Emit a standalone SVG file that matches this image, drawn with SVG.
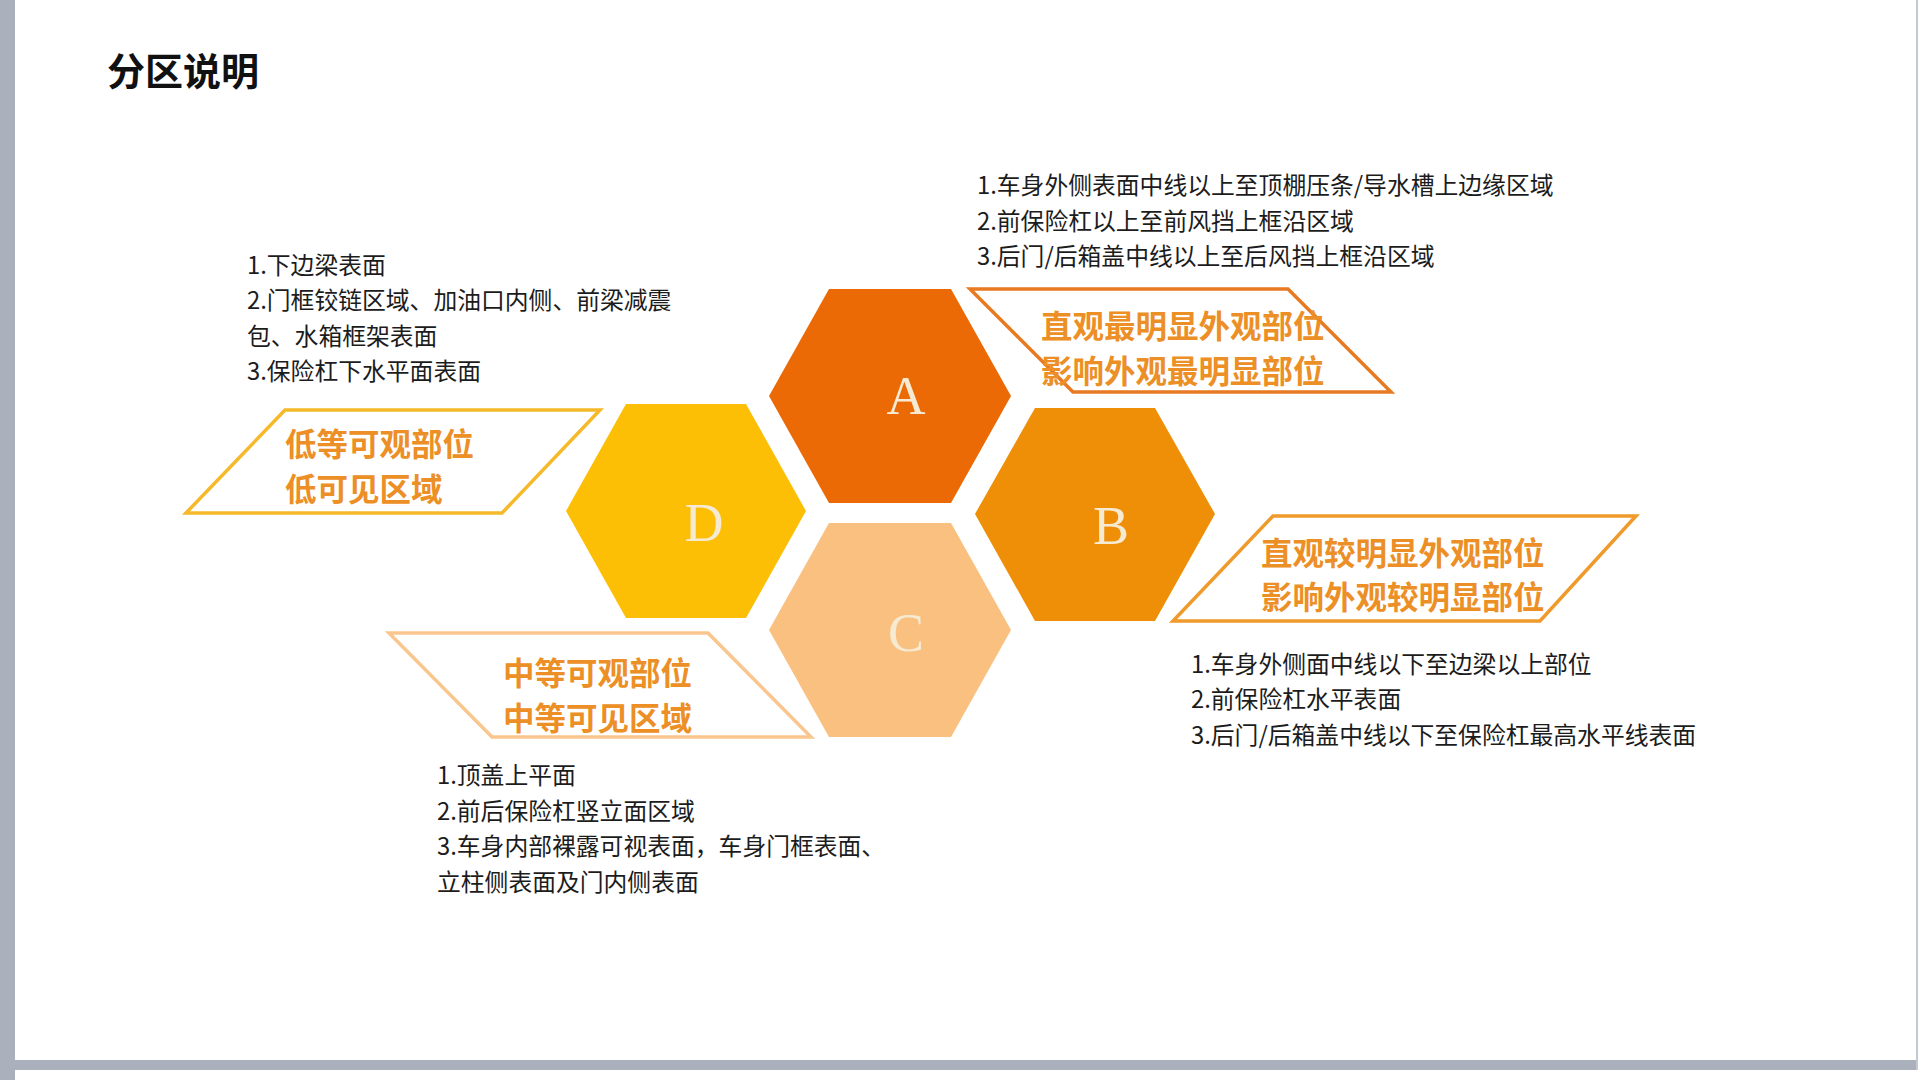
<svg xmlns="http://www.w3.org/2000/svg" width="1920" height="1080" viewBox="0 0 1920 1080">
  <style>
    .title { font-family: "Noto Sans CJK SC", "Noto Sans", sans-serif; font-size: 38px; font-weight: 700; fill: #111111; }
    .body { font-family: "Noto Sans CJK SC", "Noto Sans", sans-serif; font-size: 23.8px; fill: #1c1c1c; }
    .label { font-family: "Noto Sans CJK SC", "Noto Sans", sans-serif; font-size: 31.5px; font-weight: 700; fill: #ec8f26; }
    .letter { font-family: "Liberation Serif", "DejaVu Serif", serif; font-size: 54px; fill: #f6ead2; text-anchor: middle; }
    .para { fill: none; stroke-width: 3.5; stroke-linejoin: miter; }
  </style>
  <rect x="0" y="0" width="1920" height="1080" fill="#ffffff"/>
  <rect x="0" y="0" width="15" height="1080" fill="#aab0bc"/>
  <rect x="15" y="1060" width="1902" height="10" fill="#aab0bc"/>
  <rect x="1916" y="0" width="2" height="1070" fill="#c4c8d0"/>

  <text class="title" x="107" y="85">分区说明</text>

  <g id="hex-A">
    <polygon points="769,396 829,289 951,289 1011,396 951,503 829,503" fill="#eb6a05"/>
    <text class="letter" x="906" y="414">A</text>
  </g>
  <g id="hex-D">
    <polygon points="566,511 626,404 746,404 806,511 746,618 626,618" fill="#fcbf05"/>
    <text class="letter" x="704" y="541">D</text>
  </g>
  <g id="hex-B">
    <polygon points="975,514 1035,408 1155,408 1215,514 1155,621 1035,621" fill="#ee8f07"/>
    <text class="letter" x="1111" y="544">B</text>
  </g>
  <g id="hex-C">
    <polygon points="769,630 829,523 951,523 1011,630 951,737 829,737" fill="#f9c07f"/>
    <text class="letter" x="906" y="651">C</text>
  </g>

  <g id="label-A">
    <polygon class="para" points="970,289 1288,289 1391,392 1073,392" stroke="#e87a22"/>
    <text class="label" x="1041" y="338">直观最明显外观部位</text>
    <text class="label" x="1041" y="383">影响外观最明显部位</text>
  </g>
  <g id="label-D">
    <polygon class="para" points="285,410 600,410 502,513 186,513" stroke="#f5b92a"/>
    <text class="label" x="285" y="456">低等可观部位</text>
    <text class="label" x="285" y="501">低可见区域</text>
  </g>
  <g id="label-B">
    <polygon class="para" points="1273,516 1636,516 1540,621 1173,621" stroke="#ef9a2a"/>
    <text class="label" x="1261" y="565">直观较明显外观部位</text>
    <text class="label" x="1261" y="609">影响外观较明显部位</text>
  </g>
  <g id="label-C">
    <polygon class="para" points="389,633 708,633 811,737 492,737" stroke="#fac68f"/>
    <text class="label" x="503" y="685">中等可观部位</text>
    <text class="label" x="503" y="730">中等可见区域</text>
  </g>

  <g id="desc-A">
    <text class="body" x="977" y="194">1.车身外侧表面中线以上至顶棚压条/导水槽上边缘区域</text>
    <text class="body" x="977" y="229.5">2.前保险杠以上至前风挡上框沿区域</text>
    <text class="body" x="977" y="265">3.后门/后箱盖中线以上至后风挡上框沿区域</text>
  </g>
  <g id="desc-D">
    <text class="body" x="247" y="273.5">1.下边梁表面</text>
    <text class="body" x="247" y="309">2.门框铰链区域、加油口内侧、前梁减震</text>
    <text class="body" x="247" y="344.5">包、水箱框架表面</text>
    <text class="body" x="247" y="380">3.保险杠下水平面表面</text>
  </g>
  <g id="desc-B">
    <text class="body" x="1191" y="672.5">1.车身外侧面中线以下至边梁以上部位</text>
    <text class="body" x="1191" y="708">2.前保险杠水平表面</text>
    <text class="body" x="1191" y="743.5">3.后门/后箱盖中线以下至保险杠最高水平线表面</text>
  </g>
  <g id="desc-C">
    <text class="body" x="437" y="784">1.顶盖上平面</text>
    <text class="body" x="437" y="819.5">2.前后保险杠竖立面区域</text>
    <text class="body" x="437" y="855">3.车身内部裸露可视表面，车身门框表面、</text>
    <text class="body" x="437" y="890.5">立柱侧表面及门内侧表面</text>
  </g>

  <g id="connectors"></g>
</svg>
